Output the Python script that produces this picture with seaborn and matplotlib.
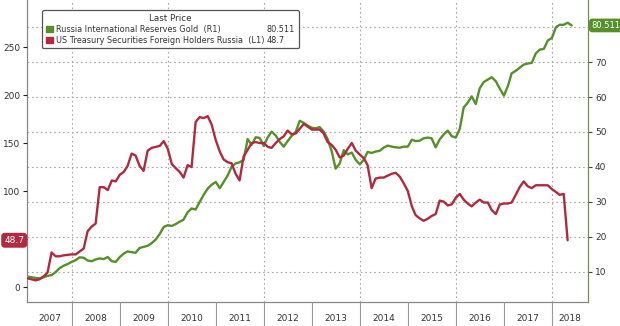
import numpy as np
import pandas as pd
import matplotlib
matplotlib.use("Agg")
import matplotlib.pyplot as plt
import matplotlib.dates as mdates
import matplotlib.transforms as mtransforms
from matplotlib.patches import Patch
import seaborn as sns

# ---------------- data (monthly, starting Feb 2007) ----------------
start_month = "2007-02-01"

# Russia International Reserves Gold (R1, right axis, $bn)
gold_reserves = [
    8.6, 8.4, 8.2, 8.1, 8.4, 8.8, 9.0, 9.9, 11.0, 11.7, 12.2,
    12.8, 13.3, 14.1, 14.0, 13.2, 13.0, 13.5, 13.8, 13.6, 14.2, 13.0, 12.8,
    14.2, 15.2, 15.8, 15.6, 15.4, 16.8, 17.1, 17.4, 18.2, 19.2, 20.8, 22.8,
    23.3, 23.1, 23.6, 24.3, 24.9, 27.0, 28.1, 27.8, 30.0, 32.0, 33.8, 34.9,
    35.7, 33.9, 35.6, 37.5, 40.0, 41.0, 41.3, 42.0, 48.0, 46.3, 48.5, 48.3,
    46.0, 48.5, 50.1, 49.0, 47.2, 45.8, 47.4, 48.9, 50.1, 53.2, 52.6, 51.8,
    51.2, 51.1, 51.4, 50.1, 48.0, 44.5, 39.5, 41.0, 44.8, 43.6, 44.1, 42.0,
    40.7, 42.1, 44.3, 44.0, 44.4, 44.6, 45.5, 46.1, 45.8, 45.6, 45.5, 45.8,
    45.8, 47.8, 47.4, 47.5, 48.2, 48.4, 48.2, 45.6, 47.9, 49.3, 50.4, 48.8,
    48.4, 51.0, 57.0, 58.4, 60.2, 58.0, 62.5, 64.3, 65.0, 65.7, 64.5, 62.4,
    60.4, 63.2, 66.8, 67.5, 68.4, 69.3, 69.6, 69.8, 72.5, 73.6, 73.8, 76.2,
    76.9, 80.0, 80.7, 80.7, 81.3, 80.511,
]

# US Treasury Securities Foreign Holders Russia (L1, left axis, $bn)
ust_holdings = [
    9, 8, 7, 8, 11, 15, 36, 32, 32, 33, 33.5,
    34, 34, 37, 40, 58, 63, 66, 104, 104, 101, 111, 110,
    117, 120, 126, 139, 137, 126, 121, 142, 145, 146, 147, 152,
    144, 128, 124, 120, 114, 127, 125, 172, 177, 176, 178, 169,
    153, 141, 133, 130, 129, 118, 111, 136, 143, 150, 151, 150,
    150, 146, 145, 150, 154, 157, 163, 159, 160, 165, 170, 167,
    164, 164, 164, 160, 151, 148, 143, 135, 137, 144, 150, 142,
    138, 134, 127, 103, 113, 114, 114, 116, 118, 119, 115, 108,
    100, 84, 75, 71.5, 69, 71, 74, 76, 90, 89, 85, 86,
    93, 97, 91, 87, 84, 88, 91, 88, 88, 80, 76, 86,
    87, 87, 88, 96, 104, 110, 105, 103, 106, 106, 106, 106,
    102, 99, 96, 97, 48.7,
]

gold_label = "Russia International Reserves Gold  (R1)"
ust_label = "US Treasury Securities Foreign Holders Russia  (L1)"
gold_last = "80.511"
ust_last = "48.7"
legend_title = "Last Price"
years = list(range(2007, 2019))
left_ticks = [0, 50, 100, 150, 200, 250]
left_ticklabels = ["0", "", "100", "150", "200", "250"]
right_ticks = [10, 20, 30, 40, 50, 60, 70, 80]
right_ticklabels = ["10", "20", "30", "40", "50", "60", "70", ""]

GREEN = "#55902a"
RED = "#b12a40"

df_gold = pd.DataFrame({"date": pd.date_range(start_month, periods=len(gold_reserves), freq="MS"),
                        "value": gold_reserves})
df_ust = pd.DataFrame({"date": pd.date_range(start_month, periods=len(ust_holdings), freq="MS"),
                       "value": ust_holdings})

sns.set_theme(style="white")
plt.rcParams["font.family"] = ["DejaVu Sans"]

fig = plt.figure(figsize=(6.2, 3.26), dpi=100)
W, H = 620, 326
ax = fig.add_axes([27 / W, 1 - 301.7 / H, (588 - 27) / W, 301.7 / H])
ax2 = ax.twinx()

# green on main axes (right scale), red on twin (left scale, drawn on top)
sns.lineplot(data=df_gold, x="date", y="value", ax=ax, color=GREEN, linewidth=1.7)
sns.lineplot(data=df_ust, x="date", y="value", ax=ax2, color=RED, linewidth=1.7)

xmin = pd.Timestamp("2007-01-26")
xmax = pd.Timestamp("2018-10-03")
ax.set_xlim(xmin, xmax)
ax.set_ylim(1.4, 87.8)
ax2.set_ylim(-15.3, 299)

# right axis (gold)
ax.yaxis.tick_right()
ax.set_yticks(right_ticks)
ax.set_yticklabels(right_ticklabels)
ax.tick_params(axis="y", which="major", right=True, left=False, length=3, width=0.8,
               color="#444444", labelsize=6.5, labelcolor="#333333", pad=2)
# left axis (treasuries)
ax2.yaxis.tick_left()
ax2.set_yticks(left_ticks)
ax2.set_yticklabels(left_ticklabels)
ax2.tick_params(axis="y", which="major", left=True, right=False, length=3, width=0.8,
                color="#222222", labelsize=6.5, labelcolor="#333333", pad=2)
ax.set_ylabel("")
ax2.set_ylabel("")
ax.set_xlabel("")
ax2.set_xlabel("")

# grid: horizontal at right ticks, vertical every two years
for v in right_ticks:
    ax.axhline(v, color="#a8a8a8", linestyle=(0, (1.5, 2.5)), linewidth=0.8, zorder=0)
for y in range(2008, 2019, 2):
    ax.axvline(pd.Timestamp(f"{y}-01-01"), color="#a8a8a8", linestyle=(0, (1.5, 2.5)),
               linewidth=0.8, zorder=0)

# x axis: year dividers as major ticks, year labels centred as minor ticks
year_starts = [pd.Timestamp(f"{y}-01-01") for y in years[1:]]
ax.set_xticks(year_starts)
ax.set_xticklabels([""] * len(year_starts))
ax.tick_params(axis="x", which="major", bottom=True, length=18, width=0.8, color="#9a9a9a")
mids = []
for y in years:
    a = max(pd.Timestamp(f"{y}-01-01"), xmin)
    b = min(pd.Timestamp(f"{y + 1}-01-01"), xmax)
    mids.append(a + (b - a) / 2)
ax.set_xticks(mids, minor=True)
ax.set_xticklabels([str(y) for y in years], minor=True)
ax.tick_params(axis="x", which="minor", bottom=True, length=0, labelsize=6.5,
               labelcolor="#333333", pad=9)
ax2.tick_params(axis="x", which="both", bottom=False, labelbottom=False)

ax.spines["top"].set_visible(False)
ax.spines["left"].set_color("#888888")
ax.spines["right"].set_color("#7a8a60")
ax.spines["bottom"].set_color("#888888")
for s in ax.spines.values():
    s.set_linewidth(0.9)
for s in ax2.spines.values():
    s.set_visible(False)

# last value tags
tr_r = mtransforms.blended_transform_factory(ax.transAxes, ax.transData)
ax.text(1.006, gold_reserves[-1], gold_last, transform=tr_r, ha="left", va="center",
        fontsize=6.0, color="white", clip_on=False, zorder=10,
        bbox=dict(boxstyle="round,pad=0.2,rounding_size=0.3", fc=GREEN, ec=GREEN))
tr_l = mtransforms.blended_transform_factory(ax2.transAxes, ax2.transData)
ax2.text(-0.005, ust_holdings[-1], ust_last, transform=tr_l, ha="right", va="center",
         fontsize=6.5, color="white", clip_on=False, zorder=10,
         bbox=dict(boxstyle="round,pad=0.25,rounding_size=0.3", fc=RED, ec=RED))

# legend
blank = Patch(facecolor="none", edgecolor="none")
handles = [Patch(facecolor=GREEN, edgecolor=GREEN), Patch(facecolor=RED, edgecolor=RED), blank, blank]
labels = [gold_label, ust_label, gold_last, ust_last]
leg = ax2.legend(handles, labels, ncol=2, title=legend_title, loc="upper left",
                 bbox_to_anchor=(42 / W, 1 - 10 / H), bbox_transform=fig.transFigure,
                 borderaxespad=0, fontsize=5.9, title_fontsize=6.3, frameon=True,
                 handlelength=0.9, handleheight=0.9, handletextpad=0.3, columnspacing=-0.9,
                 labelspacing=0.25, borderpad=0.45, fancybox=True)
leg.get_frame().set_edgecolor("#555555")
leg.get_frame().set_linewidth(0.9)
leg.get_frame().set_facecolor("white")
leg.get_frame().set_alpha(1)
for t in leg.get_texts():
    t.set_color("#333333")
leg.get_title().set_color("#333333")
leg.set_zorder(20)

fig.savefig("out.png", dpi=100)
